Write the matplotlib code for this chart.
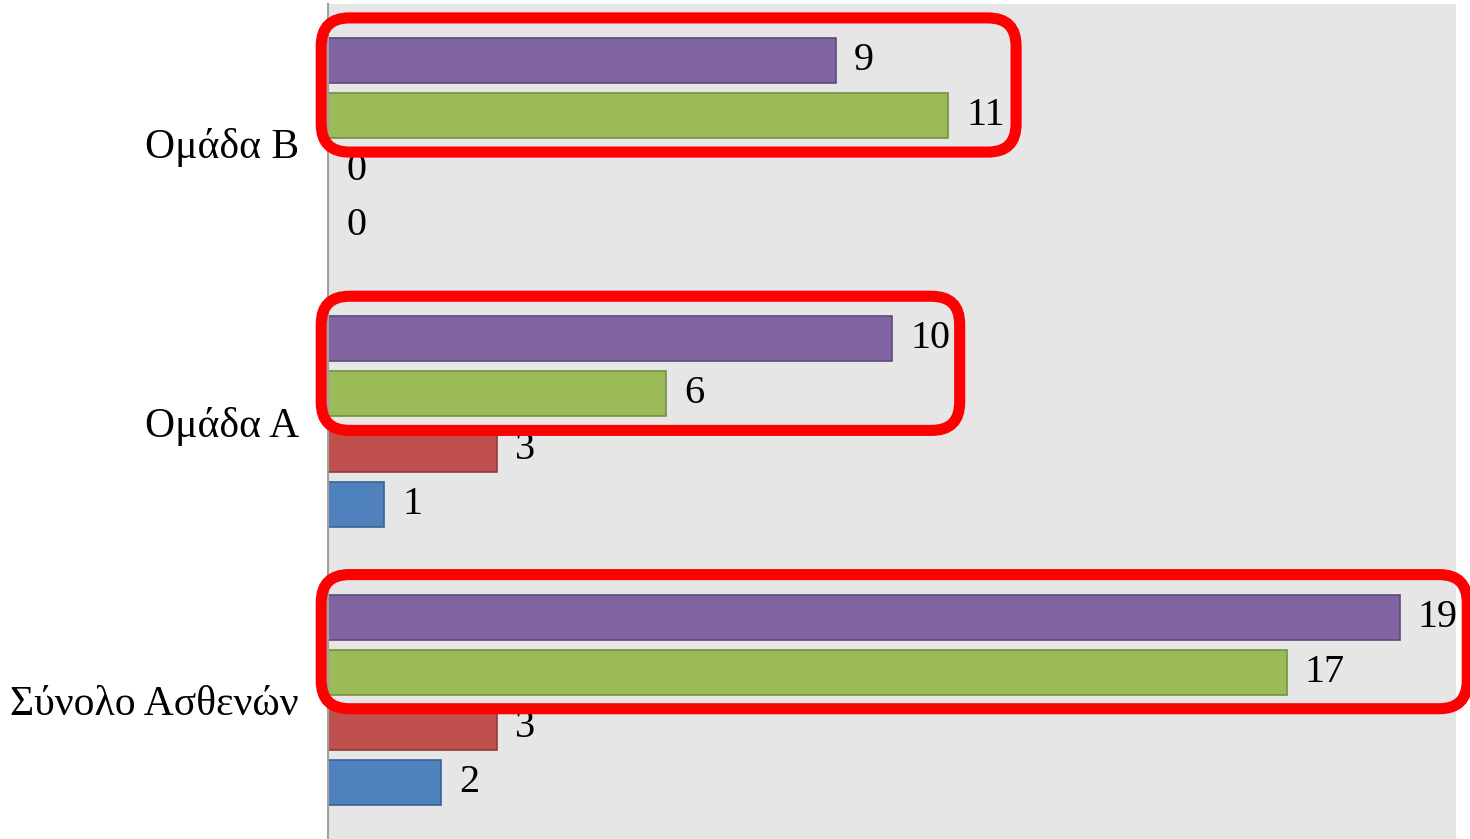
import numpy as np
import matplotlib
matplotlib.use('Agg')
from matplotlib import pyplot as plt
from matplotlib.patches import FancyBboxPatch

plt.rcParams['font.family'] = ['Liberation Serif', 'DejaVu Serif']

categories = ['Σύνολο Ασθενών', 'Ομάδα Α', 'Ομάδα Β']
# series drawn from bottom (blue) to top (purple) within each group
blue_vals = [2, 1, 0]
red_vals = [3, 3, 0]
green_vals = [17, 6, 11]
purple_vals = [19, 10, 9]

series = [blue_vals, red_vals, green_vals, purple_vals]
face_colors = ['#4F81BD', '#C0504D', '#9BBB59', '#8064A2']
edge_colors = ['#3A6496', '#8E3B38', '#74903F', '#5E4A7A']

pitch = 0.198
bar_h = 0.162
offsets = (np.arange(4) - 1.5) * pitch

fig = plt.figure(figsize=(14.7, 8.39), dpi=100)
ax = fig.add_axes([328 / 1470, 0, (1456 - 328) / 1470, 1 - 4 / 839])
ax.set_facecolor('#E6E6E6')

y = np.arange(len(categories))
for vals, off, fc, ec in zip(series, offsets, face_colors, edge_colors):
    bars = ax.barh(y + off, vals, height=bar_h, color=fc, edgecolor=ec, linewidth=1.2)
    for b, v in zip(bars, vals):
        ax.annotate(str(v), (v, b.get_y() + b.get_height() / 2), xytext=(13, 0),
                    textcoords='offset points', va='center', ha='left', fontsize=29)

# red highlight boxes around the green + purple bars of each group
for i in range(len(categories)):
    top = max(green_vals[i], purple_vals[i])
    x0 = -0.12
    x1 = top + 1.2
    y0 = i + offsets[2] - bar_h / 2 - 0.05
    y1 = i + offsets[3] + bar_h / 2 + 0.072
    box = FancyBboxPatch((x0, y0), x1 - x0, y1 - y0,
                         boxstyle='round,pad=0,rounding_size=0.5',
                         mutation_aspect=0.202,
                         fill=False, edgecolor='#FF0000', linewidth=8,
                         clip_on=False, zorder=5)
    ax.add_patch(box)

ax.set_xlim(0, 20)
ax.set_ylim(-0.50, 2.50)
ax.set_xticks([])
ax.set_yticks(y)
ax.set_yticklabels(categories, fontsize=30)
ax.tick_params(axis='y', length=0, pad=21)
for s in ['top', 'right', 'bottom']:
    ax.spines[s].set_visible(False)
ax.spines['left'].set_color('#A0A0A0')
ax.spines['left'].set_linewidth(1.5)

plt.savefig('out.png', dpi=100)
